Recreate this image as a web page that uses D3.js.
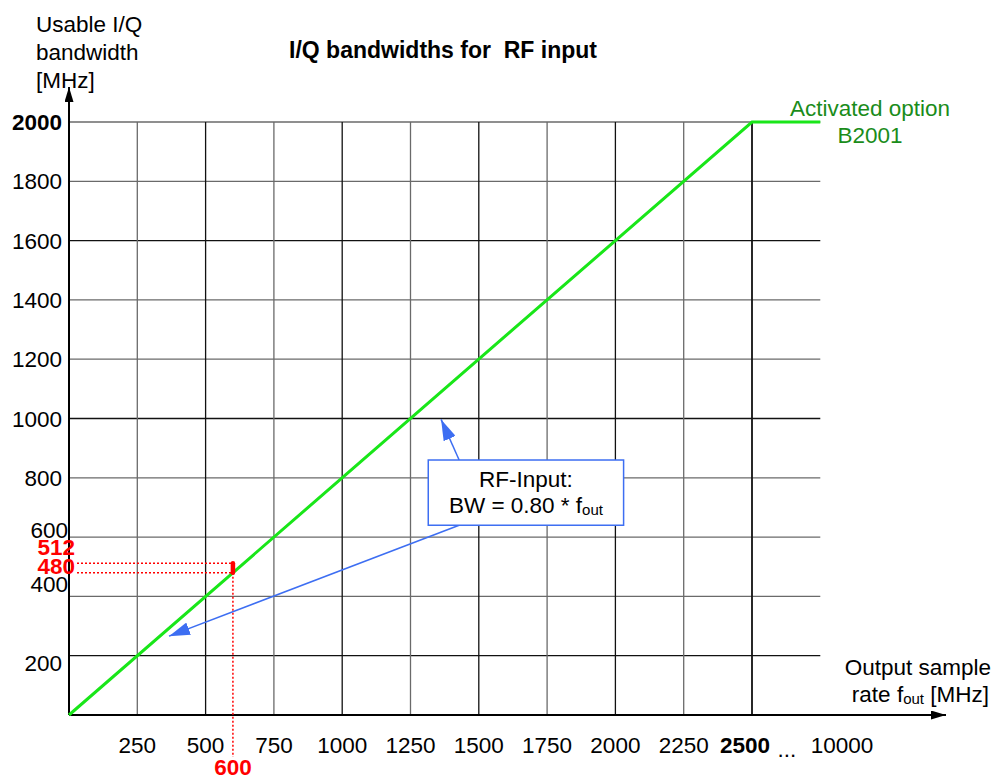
<!DOCTYPE html>
<html>
<head>
<meta charset="utf-8">
<script src="https://cdn.jsdelivr.net/npm/d3@7"></script>
<style>
  html, body { margin: 0; padding: 0; background: #fff; }
  svg { display: block; font-family: "Liberation Sans", Arial, sans-serif; }
  text { white-space: pre; }
</style>
</head>
<body>
<svg id="chart" width="1002" height="779"></svg>
<script>
// Output sample rate grid (MHz) and usable I/Q bandwidth grid (MHz)
const xTicks = [250, 500, 750, 1000, 1250, 1500, 1750, 2000, 2250, 2500];
const xTickLabels = ["250", "500", "750", "1000", "1250", "1500", "1750", "2000", "2250", "2500"];
const yTicks = [200, 400, 600, 800, 1000, 1200, 1400, 1600, 1800, 2000];
const yTickLabels = ["200", "400", "600", "800", "1000", "1200", "1400", "1600", "1800", "2000"];

// RF input: BW = 0.80 * f_out, limited to 2000 MHz with option B2001
const fout = [0, 2500, 2750];
const bw = [0, 2000, 2000];

// Highlighted operating point
const markerRate = 600;
const markerBW = [480, 512];

const svg = d3.select("#chart");
const x = d3.scaleLinear().domain([0, 2500]).range([69, 752]);
const y = d3.scaleLinear().domain([0, 2000]).range([715, 122]);
const gridEnd = 2750;

const FONT = 22.5;
const black = "#000";
const red = "#ff0000";
const blue = "#3d6ef2";

// grid
const g = svg.append("g");
g.selectAll("line.h").data(yTicks).join("line")
  .attr("x1", x(0)).attr("x2", x(gridEnd))
  .attr("y1", d => y(d)).attr("y2", d => y(d))
  .attr("stroke", d => (d === 200 || d === 1000 || d === 1600) ? "#111" : "#6a6a6a")
  .attr("stroke-width", 1.3);
g.selectAll("line.v").data(xTicks).join("line")
  .attr("x1", d => x(d)).attr("x2", d => x(d))
  .attr("y1", y(0)).attr("y2", y(2000))
  .attr("stroke", d => (d % 500 === 0) ? "#111" : "#6a6a6a")
  .attr("stroke-width", d => d === 2500 ? 1.8 : 1.3);

// arrow heads
const defs = svg.append("defs");
function head(id, color, w, h) {
  defs.append("marker").attr("id", id)
    .attr("viewBox", `0 0 ${w} ${h}`).attr("refX", w).attr("refY", h / 2)
    .attr("markerWidth", w).attr("markerHeight", h)
    .attr("markerUnits", "userSpaceOnUse").attr("orient", "auto")
    .append("path").attr("d", `M0,0 L${w},${h / 2} L0,${h} Z`).attr("fill", color);
}
head("axisHead", black, 15, 9);
head("blueHead", blue, 21, 13);

// axes
svg.append("line").attr("x1", x(0)).attr("y1", y(0)).attr("x2", 946).attr("y2", y(0))
  .attr("stroke", black).attr("stroke-width", 2).attr("marker-end", "url(#axisHead)");
svg.append("line").attr("x1", x(0)).attr("y1", y(0)).attr("x2", x(0)).attr("y2", 87)
  .attr("stroke", black).attr("stroke-width", 2).attr("marker-end", "url(#axisHead)");

// bandwidth curve
const line = d3.line().x(d => x(d[0])).y(d => y(d[1]));
svg.append("path").datum(fout.map((f, i) => [f, bw[i]]))
  .attr("d", line).attr("fill", "none")
  .attr("stroke", "#19e619").attr("stroke-width", 3);

// x tick labels
const xl = svg.append("g").attr("font-size", FONT).attr("text-anchor", "middle");
xl.selectAll("text").data(xTicks).join("text")
  .attr("x", d => x(d) - (d === 2500 ? 7 : 0))
  .attr("y", 753)
  .attr("font-weight", d => d === 2500 ? "bold" : "normal")
  .text((d, i) => xTickLabels[i]);
xl.append("text").attr("x", 787).attr("y", 757).text("...");
xl.append("text").attr("x", 842).attr("y", 753).text("10000");

// y tick labels (the lowest ones are shifted to make room for the marker values)
const yNudge = { 200: [0, 15], 400: [6, -4.5], 600: [6, 1] };
const yl = svg.append("g").attr("font-size", FONT).attr("text-anchor", "end");
yl.selectAll("text").data(yTicks).join("text")
  .attr("x", d => 62 + (yNudge[d] ? yNudge[d][0] : 0))
  .attr("y", d => y(d) + (yNudge[d] ? yNudge[d][1] : 8))
  .attr("font-weight", d => d === 2000 ? "bold" : "normal")
  .text((d, i) => yTickLabels[i]);

// axis titles
const yt = svg.append("text").attr("font-size", FONT).attr("x", 36).attr("y", 32);
["Usable I/Q", "bandwidth", "[MHz]"].forEach((s, i) =>
  yt.append("tspan").attr("x", 36).attr("y", 32 + i * 28).text(s));

const xt = svg.append("g").attr("font-size", FONT).attr("text-anchor", "end");
xt.append("text").attr("x", 991).attr("y", 675).text("Output sample");
const xt2 = xt.append("text").attr("x", 989).attr("y", 702);
xt2.append("tspan").text("rate f");
xt2.append("tspan").attr("font-size", 15).attr("dy", 2).text("out");
xt2.append("tspan").attr("dy", -2).text(" [MHz]");

// title
svg.append("text").attr("x", 443).attr("y", 58).attr("text-anchor", "middle")
  .attr("font-size", 23).attr("font-weight", "bold")
  .text("I/Q bandwidths for  RF input");

// option label
const opt = svg.append("g").attr("font-size", FONT).attr("fill", "#1a8c1a").attr("text-anchor", "middle");
opt.append("text").attr("x", 870).attr("y", 116).text("Activated option");
opt.append("text").attr("x", 870).attr("y", 143).text("B2001");

// operating point markers
const mk = svg.append("g");
markerBW.forEach(v => {
  mk.append("line").attr("x1", 77).attr("x2", x(markerRate))
    .attr("y1", y(v)).attr("y2", y(v))
    .attr("stroke", red).attr("stroke-width", 1.5).attr("stroke-dasharray", "2,2");
});
mk.append("line").attr("x1", x(markerRate)).attr("x2", x(markerRate))
  .attr("y1", y(markerBW[0])).attr("y2", 757)
  .attr("stroke", red).attr("stroke-width", 1.5).attr("stroke-dasharray", "2,2");
mk.append("line").attr("x1", x(markerRate)).attr("x2", x(markerRate))
  .attr("y1", y(markerBW[1])).attr("y2", y(markerBW[0]))
  .attr("stroke", red).attr("stroke-width", 4.5).attr("stroke-linecap", "round");
const ml = mk.append("g").attr("fill", red).attr("font-weight", "bold").attr("font-size", FONT);
ml.append("text").attr("x", 75).attr("y", y(markerBW[1]) - 8).attr("text-anchor", "end").text(String(markerBW[1]));
ml.append("text").attr("x", 75).attr("y", y(markerBW[0]) + 1.5).attr("text-anchor", "end").text(String(markerBW[0]));
ml.append("text").attr("x", x(markerRate)).attr("y", 775).attr("text-anchor", "middle").text(String(markerRate));

// callout
const box = { x0: 1315, x1: 2030, y0: 860, y1: 640 };
const cg = svg.append("g");
cg.append("line").attr("x1", x(1428)).attr("y1", y(860)).attr("x2", x(1362)).attr("y2", y(997))
  .attr("stroke", blue).attr("stroke-width", 1.5).attr("marker-end", "url(#blueHead)");
cg.append("line").attr("x1", x(1428)).attr("y1", y(640)).attr("x2", x(366)).attr("y2", y(266))
  .attr("stroke", blue).attr("stroke-width", 1.5).attr("marker-end", "url(#blueHead)");
cg.append("rect").attr("x", x(box.x0)).attr("y", y(box.y0))
  .attr("width", x(box.x1) - x(box.x0)).attr("height", y(box.y1) - y(box.y0))
  .attr("fill", "#fff").attr("stroke", blue).attr("stroke-width", 1.5);
const cx = (x(box.x0) + x(box.x1)) / 2;
const ct = cg.append("g").attr("font-size", FONT).attr("text-anchor", "middle");
ct.append("text").attr("x", cx).attr("y", 487).text("RF-Input:");
const bwT = ct.append("text").attr("x", cx).attr("y", 513);
bwT.append("tspan").text("BW = 0.80 * f");
bwT.append("tspan").attr("font-size", 15).attr("dy", 2).text("out");
</script>
</body>
</html>
